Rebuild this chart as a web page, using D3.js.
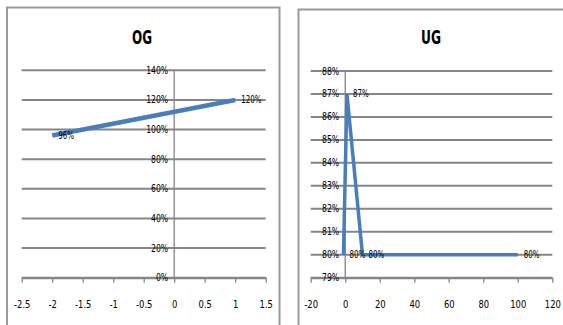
<!DOCTYPE html>
<html><head><meta charset="utf-8">
<script src="https://cdn.jsdelivr.net/npm/d3@7"></script>
<style>
html,body{margin:0;padding:0;background:#fff;}
svg{display:block;}
text{font-family:"Liberation Sans Narrow","Arial Narrow","DejaVu Sans Condensed",sans-serif;fill:#000;}
</style></head>
<body>
<svg id="c" width="563" height="325"></svg>
<script>
// ---- data ----
const ogTitle = "OG";
const ogX = [-2, 1];
const ogY = [0.96, 1.20];
const ogXTicks = [-2.5, -2, -1.5, -1, -0.5, 0, 0.5, 1, 1.5];
const ogYTicks = [0, 0.2, 0.4, 0.6, 0.8, 1.0, 1.2, 1.4];

const ugTitle = "UG";
const ugX = [-1, 1, 10, 100];
const ugY = [0.80, 0.87, 0.80, 0.80];
const ugXTicks = [-20, 0, 20, 40, 60, 80, 100, 120];
const ugYTicks = [0.79, 0.80, 0.81, 0.82, 0.83, 0.84, 0.85, 0.86, 0.87, 0.88];

const svg = d3.select("#c");
const squeeze = (sel, f) => sel.each(function(){ const w = this.getComputedTextLength(); d3.select(this).attr("textLength", w*f).attr("lengthAdjust","spacingAndGlyphs"); });
const pct = d3.format(".0%");

function chart(o) {
  const g = svg.append("g");
  // frame
  g.append("rect").attr("x", o.fx).attr("y", o.fy).attr("width", o.fw).attr("height", 400)
    .attr("fill", "#fff").attr("stroke", "#9a9a9a").attr("stroke-width", 2);
  // title
  g.append("text").attr("x", o.tx).attr("y", 44).attr("text-anchor", "middle")
    .style("font-size", "20px").style("font-weight", "bold").text(o.title)
    .attr("textLength", 20).attr("lengthAdjust", "spacingAndGlyphs");

  const x = d3.scaleLinear().domain(o.xd).range(o.xr);
  const y = d3.scaleLinear().domain(o.yd).range(o.yr);

  // gridlines
  g.append("g").selectAll("line").data(o.yTicks).join("line")
    .attr("x1", o.xr[0]).attr("x2", o.xr[1])
    .attr("y1", d => y(d)).attr("y2", d => y(d))
    .attr("stroke", "#868686").attr("stroke-width", 2);

  // vertical axis at x=0
  g.append("line").attr("x1", x(0)).attr("x2", x(0)).attr("y1", o.yr[1]).attr("y2", o.yr[0])
    .attr("stroke", "#868686").attr("stroke-width", 1.3);

  // x-axis ticks
  const xa = d3.axisBottom(x).tickValues(o.xTicks).tickSize(5).tickSizeOuter(0).tickFormat(d => String(d));
  const xg = g.append("g").attr("transform", `translate(0,${o.yr[0]})`).call(xa);
  xg.select(".domain").attr("stroke", "#868686").attr("stroke-width", 2);
  xg.selectAll(".tick line").attr("stroke", "#868686").attr("stroke-width", 1.3);
  xg.selectAll(".tick text").attr("y", 30).attr("dy", "0").style("font-size", "11px")
    .style("font-family", '"Liberation Sans Narrow","DejaVu Sans Condensed",sans-serif').attr("fill", "#000")
    .call(squeeze, 0.85);

  // y labels
  const yl = g.append("g").selectAll("text").data(o.yTicks).join("text")
    .attr("x", x(0) - 6).attr("y", d => y(d) + 3.5).attr("text-anchor", "end")
    .style("font-size", "11px").text(d => pct(d));
  squeeze(yl, 0.78);

  // line
  const pts = o.xs.map((v, i) => [v, o.ys[i]]);
  g.append("path").datum(pts)
    .attr("d", d3.line().x(d => x(d[0])).y(d => y(d[1])))
    .attr("fill", "none").attr("stroke", "#4a7ebb").attr("stroke-width", o.lw)
    .attr("stroke-linejoin", "miter");

  // data labels
  const dl = g.append("g").selectAll("text").data(pts).join("text")
    .attr("x", d => x(d[0]) + 6).attr("y", d => y(d[1]) + 3.5)
    .style("font-size", "10.5px").text(d => pct(d[1]));
  squeeze(dl, 0.75);
}

chart({ title: ogTitle, fx: 7, fy: 7.5, fw: 272.5, tx: 142,
  xd: [-2.5, 1.5], xr: [21.7, 265.7], yd: [0, 1.4], yr: [277.7, 70.3],
  xTicks: ogXTicks, yTicks: ogYTicks, xs: ogX, ys: ogY, lw: 4.5 });

chart({ title: ugTitle, fx: 298.5, fy: 9.5, fw: 280, tx: 431,
  xd: [-20, 120], xr: [310.7, 552.3], yd: [0.79, 0.88], yr: [277.7, 71],
  xTicks: ugXTicks, yTicks: ugYTicks, xs: ugX, ys: ugY, lw: 3.5 });
</script>
</body></html>
